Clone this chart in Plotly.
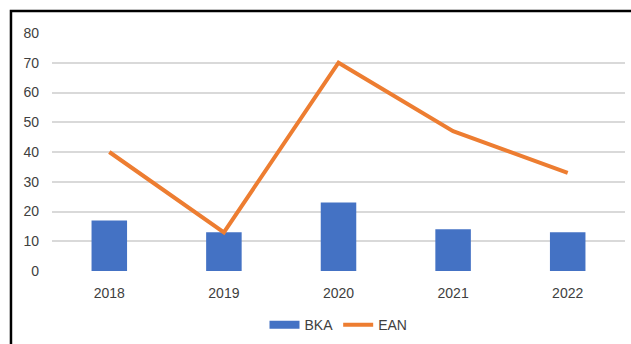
import plotly.graph_objects as go

years = ["2018", "2019", "2020", "2021", "2022"]
bka = [17, 13, 23, 14, 13]
ean = [40, 13, 70, 47, 33]
y_ticks = [0, 10, 20, 30, 40, 50, 60, 70, 80]

BLUE = "#4472C4"
ORANGE = "#ED7D31"

fig = go.Figure()
fig.add_trace(go.Bar(x=years, y=bka, name="BKA", marker=dict(color=BLUE, line=dict(width=0)),
                     width=0.31, showlegend=False))
fig.add_trace(go.Scatter(x=years, y=ean, name="EAN", mode="lines", line=dict(color=ORANGE, width=4),
                         showlegend=False))
# legend entries (Excel style swatches)
fig.add_trace(go.Scatter(x=[None], y=[None], name="BKA", mode="lines", line=dict(color=BLUE, width=8)))
fig.add_trace(go.Scatter(x=[None], y=[None], name="EAN", mode="lines", line=dict(color=ORANGE, width=4)))

font = "Liberation Sans, Arial, sans-serif"
fig.update_layout(
    width=631, height=344,
    margin=dict(l=52, r=6, t=33, b=73, autoexpand=False),
    paper_bgcolor="white", plot_bgcolor="white",
    font=dict(family=font, size=14, color="#404040"),
    showlegend=True,
    legend=dict(orientation="h", x=0.5, xanchor="center", yref="container", y=0.055, yanchor="middle",
                font=dict(size=14, color="#404040"), traceorder="normal", itemwidth=30),
    xaxis=dict(showgrid=False, showline=False, ticks="", ticklabelstandoff=12, automargin=False,
               tickfont=dict(size=14, color="#404040")),
    yaxis=dict(range=[0, 80], tickvals=y_ticks, showgrid=True, gridcolor="#D9D9D9", gridwidth=1.5,
               zeroline=False, showline=False, ticks="", ticklabelstandoff=12, automargin=False,
               tickfont=dict(size=14, color="#404040")),
    bargap=0.69,
    shapes=[dict(type="rect", xref="paper", yref="paper", x0=-0.0716, x1=1.3, y0=-0.6, y1=1.092,
                 line=dict(color="black", width=2.5), fillcolor="rgba(0,0,0,0)", layer="above")],
)
fig.write_html("out.html")
